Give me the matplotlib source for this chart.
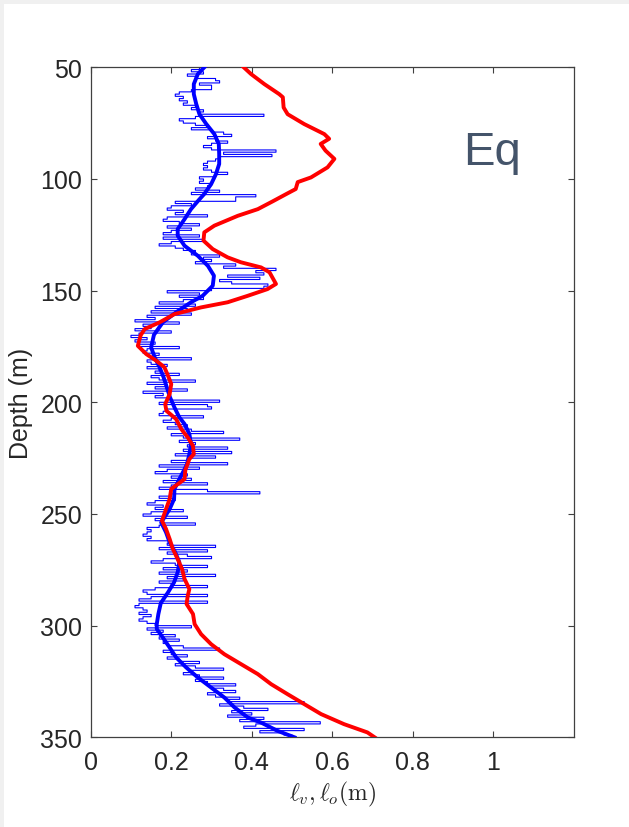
import numpy as np
import matplotlib
matplotlib.use("Agg")
import matplotlib.pyplot as plt
from matplotlib.patches import Rectangle

plt.rcParams["font.family"] = ["Liberation Sans", "DejaVu Sans"]
plt.rcParams["mathtext.fontset"] = "cm"

# Smoothed overturning scale (red)
depth_lo = [50, 53, 57.5, 62, 63.4, 68, 71, 75.4, 79.9, 82,
            84.3, 87.3, 91, 94.8, 99.3, 101.4, 104.5, 106.7, 110, 113.5,
            116.5, 120.9, 123.9, 127.6, 131.4, 135.1, 137.3, 139.6, 141.8, 147,
            149.3, 152.3, 155.2, 157.5, 160.5, 164.2, 167.2, 170, 174.7, 178.4,
            181.4, 184.3, 188.1, 191.8, 196.3, 200.8, 203.8, 207.5, 212, 215.7,
            219.5, 223.2, 225.4, 230.3, 234.4, 238.8, 243.3, 247.8, 253, 256.7,
            261.2, 265.7, 270.2, 274.7, 279.1, 283.6, 286.6, 290.3, 294.8, 299.3,
            303.8, 308.3, 312.8, 317.2, 321.7, 326.2, 330.7, 335.1, 339.6, 344.1,
            347.8, 350]
ell_o = [0.38, 0.398, 0.431, 0.468, 0.477, 0.479, 0.489, 0.530, 0.580, 0.592,
         0.571, 0.583, 0.605, 0.588, 0.547, 0.514, 0.509, 0.486, 0.452, 0.415,
         0.365, 0.307, 0.282, 0.280, 0.303, 0.340, 0.373, 0.423, 0.444, 0.460,
         0.439, 0.390, 0.340, 0.274, 0.208, 0.171, 0.134, 0.124, 0.117, 0.138,
         0.163, 0.183, 0.192, 0.200, 0.196, 0.185, 0.188, 0.212, 0.225, 0.241,
         0.254, 0.256, 0.245, 0.235, 0.233, 0.200, 0.196, 0.187, 0.177, 0.187,
         0.196, 0.204, 0.216, 0.227, 0.233, 0.245, 0.241, 0.238, 0.254, 0.258,
         0.274, 0.299, 0.332, 0.373, 0.415, 0.448, 0.489, 0.530, 0.572, 0.629,
         0.687, 0.705]

# Smoothed vertical scale (thick blue)
depth_lv_smooth = [50, 53, 57.5, 62, 66.4, 71, 75.4, 79.9, 84.3, 88.8,
                   93.3, 97.8, 102.3, 106.7, 109.5, 113.5, 118, 122.4, 125.4, 129.9,
                   134.4, 138.9, 143.3, 147.8, 152.3, 155.2, 159.7, 164.2, 169.8, 175.4,
                   179.9, 184.3, 188.8, 193.3, 197.8, 202.3, 206.7, 209.7, 214.2, 218.7,
                   223.2, 227.7, 230.3, 234.4, 238.8, 243.3, 247.8, 253.8, 258.2, 262.7,
                   267.2, 271.6, 276.1, 280.6, 285.1, 289.9, 294.8, 299.3, 301.5, 305.3,
                   309.8, 314.2, 318.7, 323.2, 327.7, 332.2, 336.6, 341.1, 343.4, 347.1,
                   350]
ell_v_smooth = [0.282, 0.266, 0.256, 0.256, 0.262, 0.270, 0.287, 0.307, 0.318, 0.319,
                0.319, 0.311, 0.299, 0.282, 0.268, 0.249, 0.233, 0.216, 0.216, 0.233,
                0.266, 0.291, 0.306, 0.303, 0.278, 0.249, 0.212, 0.179, 0.157, 0.150,
                0.159, 0.171, 0.181, 0.189, 0.197, 0.208, 0.220, 0.233, 0.245, 0.249,
                0.245, 0.239, 0.232, 0.220, 0.208, 0.207, 0.196, 0.175, 0.187, 0.196,
                0.210, 0.220, 0.216, 0.207, 0.192, 0.174, 0.168, 0.164, 0.164, 0.179,
                0.196, 0.212, 0.237, 0.266, 0.299, 0.332, 0.357, 0.390, 0.423, 0.464,
                0.506]

# Raw vertical scale at 1 m resolution (thin blue), 50-350 m
depth_lv_raw = list(range(50, 351))
ell_v_raw = [
    0.29, 0.27, 0.25, 0.28, 0.24, 0.26, 0.31, 0.32, 0.27, 0.30,
    0.30, 0.25, 0.22, 0.21, 0.23, 0.22, 0.24, 0.23, 0.26, 0.25,
    0.28, 0.27, 0.43, 0.26, 0.22, 0.23, 0.26, 0.29, 0.25, 0.30,
    0.33, 0.35, 0.29, 0.31, 0.34, 0.30, 0.28, 0.30, 0.46, 0.33,
    0.45, 0.32, 0.31, 0.29, 0.28, 0.29, 0.28, 0.30, 0.34, 0.31,
    0.27, 0.28, 0.27, 0.30, 0.29, 0.26, 0.32, 0.25, 0.41, 0.36,
    0.36, 0.21, 0.25, 0.20, 0.19, 0.23, 0.21, 0.29, 0.19, 0.18,
    0.22, 0.27, 0.19, 0.25, 0.20, 0.18, 0.27, 0.18, 0.28, 0.20,
    0.17, 0.21, 0.23, 0.26, 0.25, 0.32, 0.28, 0.30, 0.26, 0.36,
    0.33, 0.46, 0.41, 0.43, 0.34, 0.42, 0.32, 0.35, 0.44, 0.43,
    0.30, 0.19, 0.27, 0.22, 0.28, 0.23, 0.17, 0.26, 0.16, 0.24,
    0.15, 0.25, 0.14, 0.16, 0.11, 0.22, 0.13, 0.15, 0.11, 0.20,
    0.12, 0.10, 0.14, 0.11, 0.16, 0.12, 0.22, 0.14, 0.13, 0.17,
    0.16, 0.25, 0.14, 0.15, 0.19, 0.14, 0.17, 0.16, 0.22, 0.15,
    0.17, 0.26, 0.14, 0.19, 0.16, 0.24, 0.13, 0.18, 0.16, 0.20,
    0.32, 0.17, 0.29, 0.30, 0.19, 0.18, 0.17, 0.28, 0.20, 0.18,
    0.21, 0.24, 0.19, 0.25, 0.33, 0.20, 0.23, 0.37, 0.22, 0.26,
    0.24, 0.34, 0.23, 0.35, 0.21, 0.31, 0.24, 0.20, 0.34, 0.17,
    0.27, 0.19, 0.16, 0.24, 0.20, 0.25, 0.18, 0.29, 0.20, 0.17,
    0.29, 0.42, 0.20, 0.17, 0.21, 0.16, 0.14, 0.18, 0.16, 0.23,
    0.15, 0.13, 0.24, 0.16, 0.18, 0.26, 0.17, 0.14, 0.15, 0.14,
    0.13, 0.15, 0.14, 0.20, 0.19, 0.31, 0.17, 0.29, 0.19, 0.24,
    0.30, 0.18, 0.15, 0.21, 0.29, 0.18, 0.24, 0.17, 0.31, 0.19,
    0.23, 0.17, 0.20, 0.29, 0.16, 0.13, 0.14, 0.29, 0.15, 0.12,
    0.29, 0.12, 0.11, 0.13, 0.14, 0.12, 0.15, 0.13, 0.12, 0.14,
    0.16, 0.25, 0.14, 0.18, 0.15, 0.21, 0.17, 0.22, 0.18, 0.19,
    0.23, 0.32, 0.18, 0.20, 0.24, 0.19, 0.22, 0.27, 0.21, 0.26,
    0.33, 0.25, 0.23, 0.27, 0.33, 0.26, 0.29, 0.36, 0.30, 0.33,
    0.36, 0.29, 0.31, 0.37, 0.34, 0.53, 0.32, 0.38, 0.44, 0.35,
    0.40, 0.34, 0.43, 0.37, 0.57, 0.41, 0.38, 0.53, 0.42, 0.48,
    0.50,
]

x_ticks = [0, 0.2, 0.4, 0.6, 0.8, 1]
x_tick_labels = ["0", "0.2", "0.4", "0.6", "0.8", "1"]
y_ticks = [50, 100, 150, 200, 250, 300, 350]
panel_label = "Eq"

fig = plt.figure(figsize=(6.29, 8.28), dpi=100)
fig.patch.set_facecolor("white")

# light frame along the top and left edges
fig.patches.append(Rectangle((0, 1 - 5 / 828), 1, 5 / 828, transform=fig.transFigure,
                             facecolor="#f0f0f0", edgecolor="none", zorder=0))
fig.patches.append(Rectangle((0, 0), 4 / 629, 1, transform=fig.transFigure,
                             facecolor="#f0f0f0", edgecolor="none", zorder=0))

ax = fig.add_axes([0.1442, 0.1083, 0.7684, 0.8092])

# raw profile drawn as stairs: horizontal run at each depth, then a 1 m drop
ax.plot(ell_v_raw, depth_lv_raw, color="#0000ff", lw=0.8, zorder=2,
        drawstyle="steps-post", snap=False)
ax.plot(ell_v_smooth, depth_lv_smooth, color="#0000ff", lw=2.8, zorder=3,
        solid_joinstyle="round")
ax.plot(ell_o, depth_lo, color="#ff0000", lw=2.8, zorder=4, solid_joinstyle="round")

ax.set_xlim(0, 1.2)
ax.set_ylim(350, 50)
ax.set_xticks(x_ticks)
ax.set_xticklabels(x_tick_labels)
ax.set_yticks(y_ticks)

axis_color = "#404040"
for side in ax.spines.values():
    side.set_color(axis_color)
    side.set_linewidth(0.9)
ax.tick_params(direction="in", length=4.5, width=0.8, color=axis_color,
               top=True, right=True, labelsize=18, labelcolor="#262626")
ax.tick_params(axis="x", pad=9)
ax.tick_params(axis="y", pad=6)

ax.set_ylabel("Depth (m)", fontsize=18, color="#262626", labelpad=5)
ax.set_xlabel(r"$\ell_v, \ell_o(\mathrm{m})$", fontsize=17, color="#262626", labelpad=4)

ax.text(0.925, 93.3, panel_label, fontsize=34, color="#44546a",
        ha="left", va="baseline")

fig.savefig("out.png", dpi=100)
